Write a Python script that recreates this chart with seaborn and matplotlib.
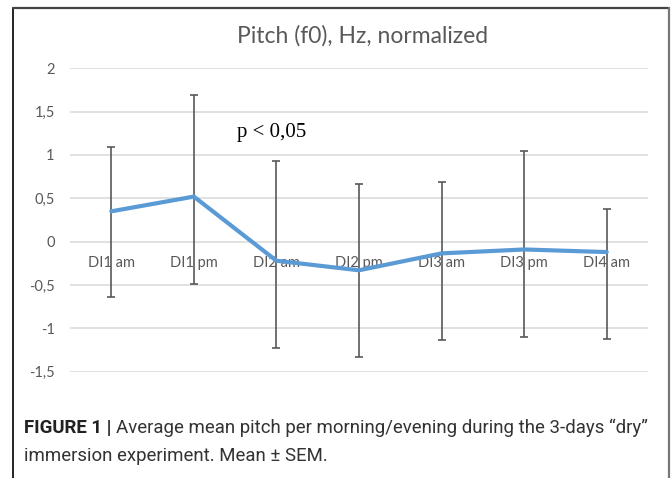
import numpy as np
import pandas as pd
import matplotlib
matplotlib.use("Agg")
import matplotlib.pyplot as plt
from matplotlib.lines import Line2D
import seaborn as sns

# Session labels and normalized pitch values (mean, lower and upper SEM bounds)
sessions = ["DI1 am", "DI1 pm", "DI2 am", "DI2 pm", "DI3 am", "DI3 pm", "DI4 am"]
mean_f0 = [0.35, 0.52, -0.22, -0.33, -0.135, -0.09, -0.12]
upper_f0 = [1.09, 1.69, 0.935, 0.665, 0.69, 1.045, 0.375]
lower_f0 = [-0.64, -0.49, -1.23, -1.33, -1.135, -1.095, -1.125]
y_ticks = [-1.5, -1.0, -0.5, 0.0, 0.5, 1.0, 1.5, 2.0]
y_tick_labels = ["-1,5", "-1", "-0,5", "0", "0,5", "1", "1,5", "2"]

df = pd.DataFrame({
    "session": sessions,
    "pos": np.arange(len(sessions)),
    "mean": mean_f0,
    "low": lower_f0,
    "high": upper_f0,
})

sns.set_theme(style="white")
plt.rcParams["font.family"] = ["Lato", "DejaVu Sans"]

W, H = 672, 478
fig = plt.figure(figsize=(W / 100, H / 100), dpi=100)
fig.patch.set_facecolor("white")

left, right, top, bottom = 70, 648, 68.3, 371.7
ax = fig.add_axes([left / W, 1 - bottom / H, (right - left) / W, (bottom - top) / H])
ax.set_facecolor("white")

gray_txt = "#595959"

# Error bars (SEM) behind the mean line
ax.errorbar(df["pos"], df["mean"],
            yerr=[df["mean"] - df["low"], df["high"] - df["mean"]],
            fmt="none", ecolor="#595959", elinewidth=1.2, capsize=3.2,
            capthick=1.2, zorder=3)

sns.lineplot(data=df, x="pos", y="mean", color="#5B9BD5", linewidth=3.0,
             ax=ax, zorder=4, legend=False)

# Category labels sit just under the zero line
for i, lab in enumerate(sessions):
    ax.annotate(lab, xy=(i, 0), xycoords="data", xytext=(0, -15.3),
                textcoords="offset points", ha="center", va="center",
                fontsize=10.5, color=gray_txt, zorder=2)

ax.set_xlim(-0.5, len(sessions) - 0.5)
ax.set_ylim(-1.5, 2.0)
ax.set_xticks([])
ax.set_yticks(y_ticks)
ax.set_yticklabels(y_tick_labels, color=gray_txt, fontsize=10.5)
ax.tick_params(axis="y", length=0, pad=11)
ax.grid(axis="y", color="#D9D9D9", linewidth=1.1, zorder=0)
ax.set_axisbelow(True)
for s in ax.spines.values():
    s.set_visible(False)
ax.set_xlabel("")
ax.set_ylabel("")

ax.text(1.52, 1.254, "p < 0,05", family=["Liberation Serif", "DejaVu Serif"],
        fontsize=15, color="black", ha="left", va="center", zorder=5)

fig.text(363 / W, 1 - 36 / H, "Pitch (f0), Hz, normalized", ha="center",
         va="center", fontsize=16.5, color=gray_txt)

# Panel frame (open at the bottom)
fx0, fx1, fy = 13 / W, 669 / W, 1 - 8 / H
fig.add_artist(Line2D([fx0, fx0], [0, fy], transform=fig.transFigure,
                      color="#111111", linewidth=1.3))
fig.add_artist(Line2D([fx0, fx1], [fy, fy], transform=fig.transFigure,
                      color="#444444", linewidth=1.6))
fig.add_artist(Line2D([fx1, fx1], [0, fy], transform=fig.transFigure,
                      color="#777777", linewidth=1.6))

# Caption, sized so the first line spans the panel width
cap_font = ["Roboto", "DejaVu Sans"]
bold_part = "FIGURE 1 | "
rest_part = "Average mean pitch per morning/evening during the 3-days \u201cdry\u201d"
line2 = "immersion experiment. Mean \u00b1 SEM."

renderer = fig.canvas.get_renderer()
probe_size = 14
pb = fig.text(0, 0, bold_part, family=cap_font, fontweight="bold", fontsize=probe_size)
pr = fig.text(0, 0, rest_part, family=cap_font, fontsize=probe_size)
total = pb.get_window_extent(renderer).width + pr.get_window_extent(renderer).width
pb.remove()
pr.remove()
cap_size = probe_size * 630 / total

t1 = fig.text(24 / W, 1 - 433 / H, bold_part, family=cap_font,
              fontweight="bold", fontsize=cap_size, color="#222222",
              ha="left", va="baseline")
ax.annotate(rest_part, xy=(1, 0), xycoords=t1, ha="left", va="bottom",
            family=cap_font, fontsize=cap_size, color="#333333",
            annotation_clip=False)
fig.text(24 / W, 1 - 461 / H, line2, family=cap_font, fontsize=cap_size,
         color="#333333", ha="left", va="baseline")

fig.savefig("out.png", dpi=100, facecolor="white")
